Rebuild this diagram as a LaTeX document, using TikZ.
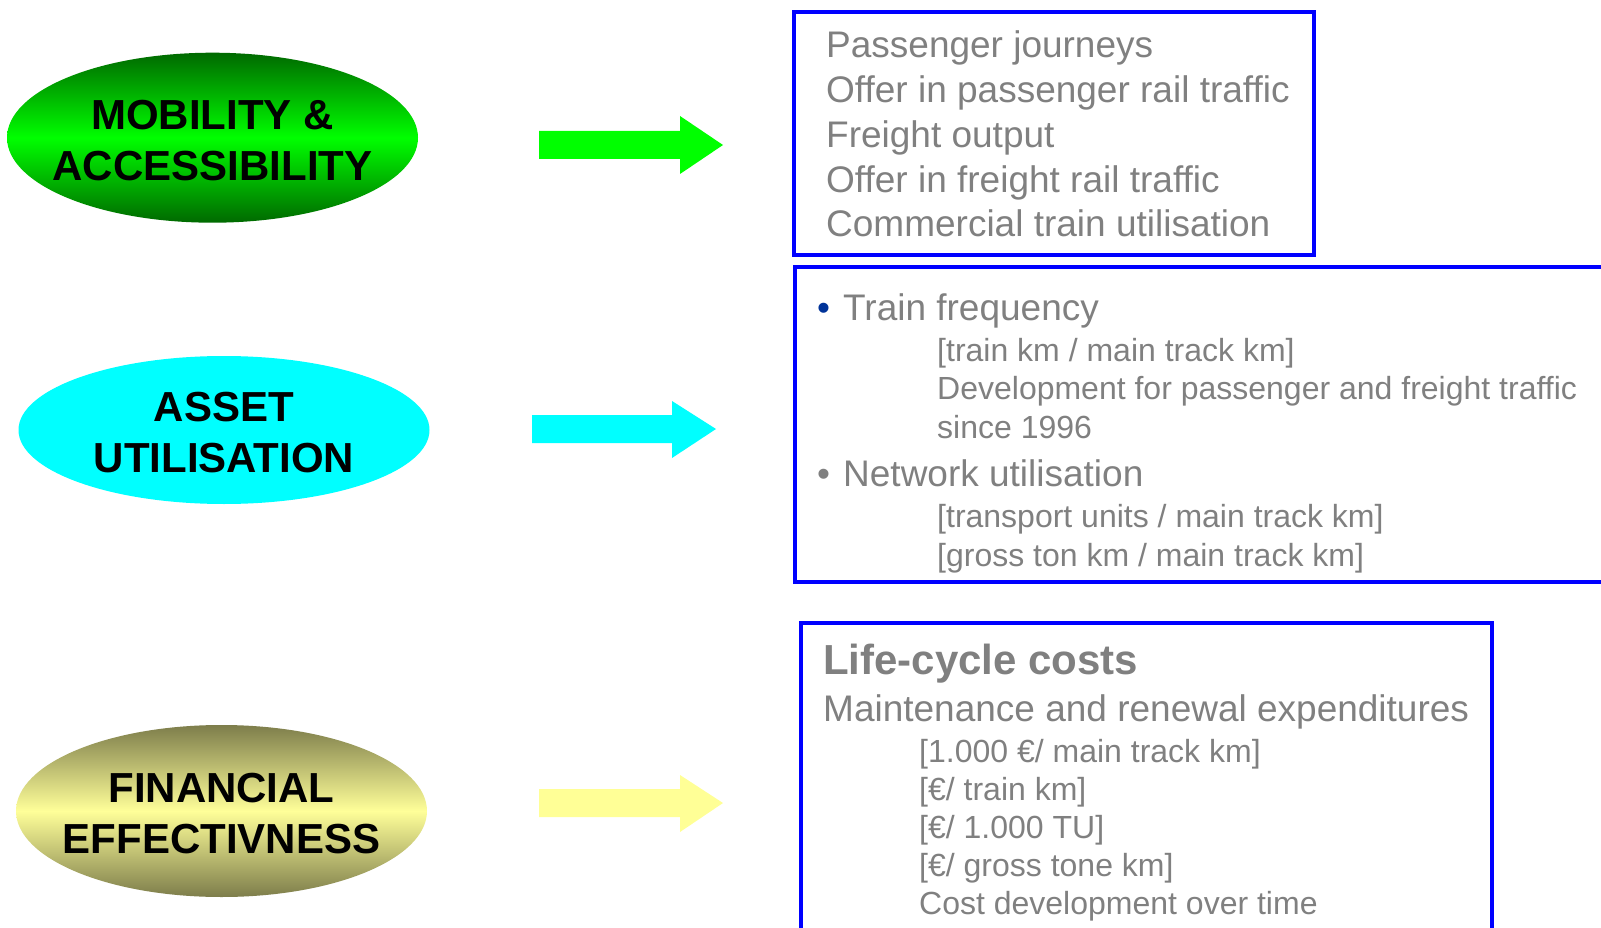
\documentclass[tikz,border=0pt]{standalone}
\usepackage{fontspec}
\setmainfont{Liberation Sans}
\usetikzlibrary{shapes.geometric}
\definecolor{txtgrey}{RGB}{128,128,128}
\definecolor{bblue}{RGB}{0,0,255}
\definecolor{bulletblue}{RGB}{0,51,153}
\definecolor{dkgreen}{RGB}{0,105,0}
\definecolor{brgreen}{RGB}{0,255,0}
\definecolor{olivedk}{RGB}{125,125,75}
\definecolor{ltyellow}{RGB}{255,255,153}
\definecolor{arrowyellow}{RGB}{255,255,150}
\definecolor{cyanfill}{RGB}{0,255,255}
\begin{document}
\begin{tikzpicture}[x=1pt,y=-1pt,
 oval/.style={ellipse, inner sep=0pt, minimum width=411},
 ovaltxt/.style={inner sep=0pt, align=center, yshift=-2.5pt, font=\fontsize{42}{51}\selectfont\bfseries},
 bluebox/.style={draw=bblue, line width=4pt, inner sep=0pt},
 bigtxt/.style={anchor=base west, inner sep=0pt, text=txtgrey, font=\fontsize{37}{44}\selectfont},
 smalltxt/.style={anchor=base west, inner sep=0pt, text=txtgrey, font=\fontsize{32}{38}\selectfont},
 headtxt/.style={anchor=base west, inner sep=0pt, text=txtgrey, font=\fontsize{42}{50}\selectfont\bfseries},
]
\useasboundingbox (0,0) rectangle (1601,928);
\clip (0,0) rectangle (1601,928);

% ellipses
\node[oval, minimum height=170, top color=dkgreen, bottom color=dkgreen, middle color=brgreen] (mob) at (212.5,137.7) {};
\node[ovaltxt] (mobtxt) at (mob.center) {MOBILITY \&\\ACCESSIBILITY};
\node[oval, minimum height=148, fill=cyanfill] (asset) at (224,430) {};
\node[ovaltxt] (assettxt) at (asset.center) {ASSET\\UTILISATION};
\node[oval, minimum height=172, top color=olivedk, bottom color=olivedk, middle color=ltyellow] (fin) at (221.5,811) {};
\node[ovaltxt] (fintxt) at (fin.center) {FINANCIAL\\EFFECTIVNESS};

% block arrows
\fill[brgreen] (539,131) -- (680,131) -- (680,116) -- (723,145) -- (680,174) -- (680,159) -- (539,159) -- cycle;
\fill[cyanfill] (532,415) -- (672,415) -- (672,401) -- (716,429) -- (672,458) -- (672,443) -- (532,443) -- cycle;
\fill[arrowyellow] (539,789) -- (680,789) -- (680,775) -- (723,803) -- (680,832) -- (680,817) -- (539,817) -- cycle;

% boxes
\node[bluebox, minimum width=520, minimum height=243] (box1) at (1054,133.5) {};
\node[bluebox, minimum width=825, minimum height=315] (box2) at (1207.5,424.5) {};
\node[bluebox, minimum width=691, minimum height=327] (box3) at (1146.5,786.5) {};

% box 1 text
\node[bigtxt] (b1a) at (826,58) {Passenger journeys};
\node[bigtxt] (b1b) at (826,102.7) {Offer in passenger rail traffic};
\node[bigtxt] (b1c) at (826,147.4) {Freight output};
\node[bigtxt] (b1d) at (826,192.1) {Offer in freight rail traffic};
\node[bigtxt] (b1e) at (826,236.8) {Commercial train utilisation};

% box 2 text
\node[bigtxt, text=bulletblue] (bul1) at (817,320) {•};
\node[bigtxt] (b2a) at (843,320) {Train frequency};
\node[smalltxt] (b2b) at (937,361) {[train km / main track km]};
\node[smalltxt] (b2c) at (937,399) {Development for passenger and freight traffic};
\node[smalltxt] (b2d) at (937,438) {since 1996};
\node[bigtxt] (bul2) at (817,486) {•};
\node[bigtxt] (b2e) at (843,486) {Network utilisation};
\node[smalltxt] (b2f) at (937,527) {[transport units / main track km]};
\node[smalltxt] (b2g) at (937,566) {[gross ton km / main track km]};

% box 3 text
\node[headtxt] (b3a) at (823,674) {Life-cycle costs};
\node[bigtxt] (b3b) at (823,721) {Maintenance and renewal expenditures};
\node[smalltxt] (b3c) at (919,762) {[1.000 €/ main track km]};
\node[smalltxt] (b3d) at (919,800) {[€/ train km]};
\node[smalltxt] (b3e) at (919,838) {[€/ 1.000 TU]};
\node[smalltxt] (b3f) at (919,876) {[€/ gross tone km]};
\node[smalltxt] (b3g) at (919,914) {Cost development over time};
\end{tikzpicture}
\end{document}
